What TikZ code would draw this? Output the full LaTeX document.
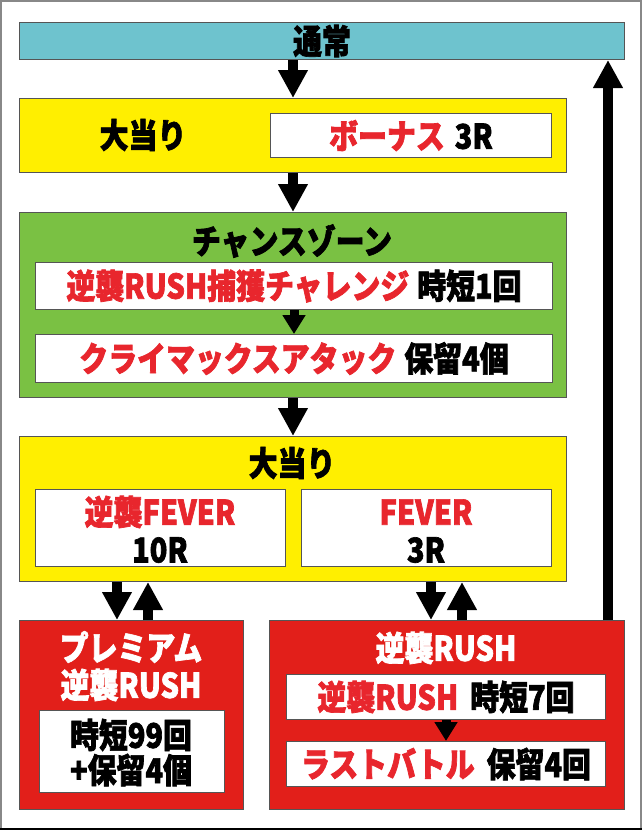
\documentclass[tikz,border=0pt]{standalone}
\usepackage{fontspec}
\setmainfont{Noto Sans CJK JP}[FakeStretch=0.85, BoldFeatures={FakeBold=2}]
\usetikzlibrary{arrows.meta}
\definecolor{cbar}{HTML}{6EC3CE}
\definecolor{cyel}{HTML}{FFEF00}
\definecolor{cgrn}{HTML}{7AC143}
\definecolor{cred}{HTML}{E21F1A}
\definecolor{tred}{HTML}{E8262D}
\definecolor{edge}{HTML}{555555}
\definecolor{frame}{HTML}{888888}
\begin{document}
\begin{tikzpicture}[x=1pt,y=-1pt,
  blk/.style={draw=edge, line width=1pt, inner sep=0pt, anchor=north west},
  lbl/.style={inner sep=0pt, font=\bfseries\fontsize{34}{36}\selectfont},
  arr/.style={line width=10pt, -{Triangle[width=28pt,length=28pt]}},
  sarr/.style={line width=9pt, -{Triangle[width=22pt,length=19pt]}}
]
\useasboundingbox (0,0) rectangle (642,830);
\fill[white] (0,0) rectangle (642,830);
\draw[frame, line width=2.5pt] (1.2,828) -- (1.2,1.2) -- (640.8,1.2) -- (640.8,828);
\draw[black, line width=2pt] (0,828.5) -- (642,828.5);

% boxes
\node[blk, fill=cbar, minimum width=605pt, minimum height=37pt] (normal) at (19,22) {};
\node[blk, fill=cyel, minimum width=547pt, minimum height=74pt] (oa1) at (19,98) {};
\node[blk, fill=white, minimum width=281pt, minimum height=44pt] (bonus) at (270,113) {};
\node[blk, fill=cgrn, minimum width=547pt, minimum height=185pt] (chance) at (19,212) {};
\node[blk, fill=white, minimum width=517pt, minimum height=47pt] (cz1) at (35,262) {};
\node[blk, fill=white, minimum width=517pt, minimum height=48pt] (cz2) at (35,334) {};
\node[blk, fill=cyel, minimum width=547pt, minimum height=145pt] (oa2) at (19,436) {};
\node[blk, fill=white, minimum width=250pt, minimum height=77pt] (fevL) at (35,489) {};
\node[blk, fill=white, minimum width=250pt, minimum height=77pt] (fevR) at (301,489) {};
\node[blk, fill=cred, minimum width=224pt, minimum height=189pt] (prem) at (19,620) {};
\node[blk, fill=white, minimum width=185pt, minimum height=82pt] (premIn) at (39,710) {};
\node[blk, fill=cred, minimum width=355pt, minimum height=189pt] (rush) at (269,620) {};
\node[blk, fill=white, minimum width=319pt, minimum height=45pt] (rush1) at (286,674) {};
\node[blk, fill=white, minimum width=319pt, minimum height=45pt] (rush2) at (286,741) {};

% texts
\node[lbl] (tNormal) at (normal.center) {通常};
\node[lbl] (tOa1) at (143,135) {大当り};
\node[lbl] (tBonus) at (bonus.center) {{\color{tred}ボーナス}\hspace{10pt}3R};
\node[lbl] (tChance) at (292,241) {チャンスゾーン};
\node[lbl] (tCz1) at (cz1.center) {{\color{tred}逆襲RUSH捕獲チャレンジ}\hspace{8pt}時短1回};
\node[lbl] (tCz2) at (cz2.center) {{\color{tred}クライマックスアタック}\hspace{8pt}保留4個};
\node[lbl] (tOa2) at (292,463) {大当り};
\node[lbl, text=tred] (tFevL1) at (160,512) {逆襲FEVER};
\node[lbl] (tFevL2) at (160,550) {10R};
\node[lbl, text=tred] (tFevR1) at (426,512) {FEVER};
\node[lbl] (tFevR2) at (426,550) {3R};
\node[lbl, text=white] (tPrem1) at (131,647) {プレミアム};
\node[lbl, text=white] (tPrem2) at (131,685) {逆襲RUSH};
\node[lbl] (tPremIn1) at (131,735) {時短99回};
\node[lbl] (tPremIn2) at (131,770) {+保留4個};
\node[lbl, text=white] (tRush) at (446,648) {逆襲RUSH};
\node[lbl] (tRush1) at (rush1.center) {{\color{tred}逆襲RUSH}\hspace{12pt}時短7回};
\node[lbl] (tRush2) at (rush2.center) {{\color{tred}ラストバトル}\hspace{12pt}保留4回};

% arrows
\draw[arr] (normal.south -| oa1.north) -- (oa1.north);
\draw[arr] (oa1.south) -- (chance.north);
\draw[sarr] (cz1.south) -- (cz2.north);
\draw[arr] (chance.south) -- (oa2.north);
\draw[arr] (oa2.south -| 117,0) -- (prem.north -| 117,0);
\draw[arr] (prem.north -| 148,0) -- (oa2.south -| 148,0);
\draw[arr] (oa2.south -| 431,0) -- (rush.north -| 431,0);
\draw[arr] (rush.north -| 462,0) -- (oa2.south -| 462,0);
\draw[sarr] (rush1.south -| 446,0) -- (rush2.north -| 446,0);
\draw[arr] (rush.north -| 608,0) -- (normal.south -| 608,0);
\end{tikzpicture}
\end{document}
